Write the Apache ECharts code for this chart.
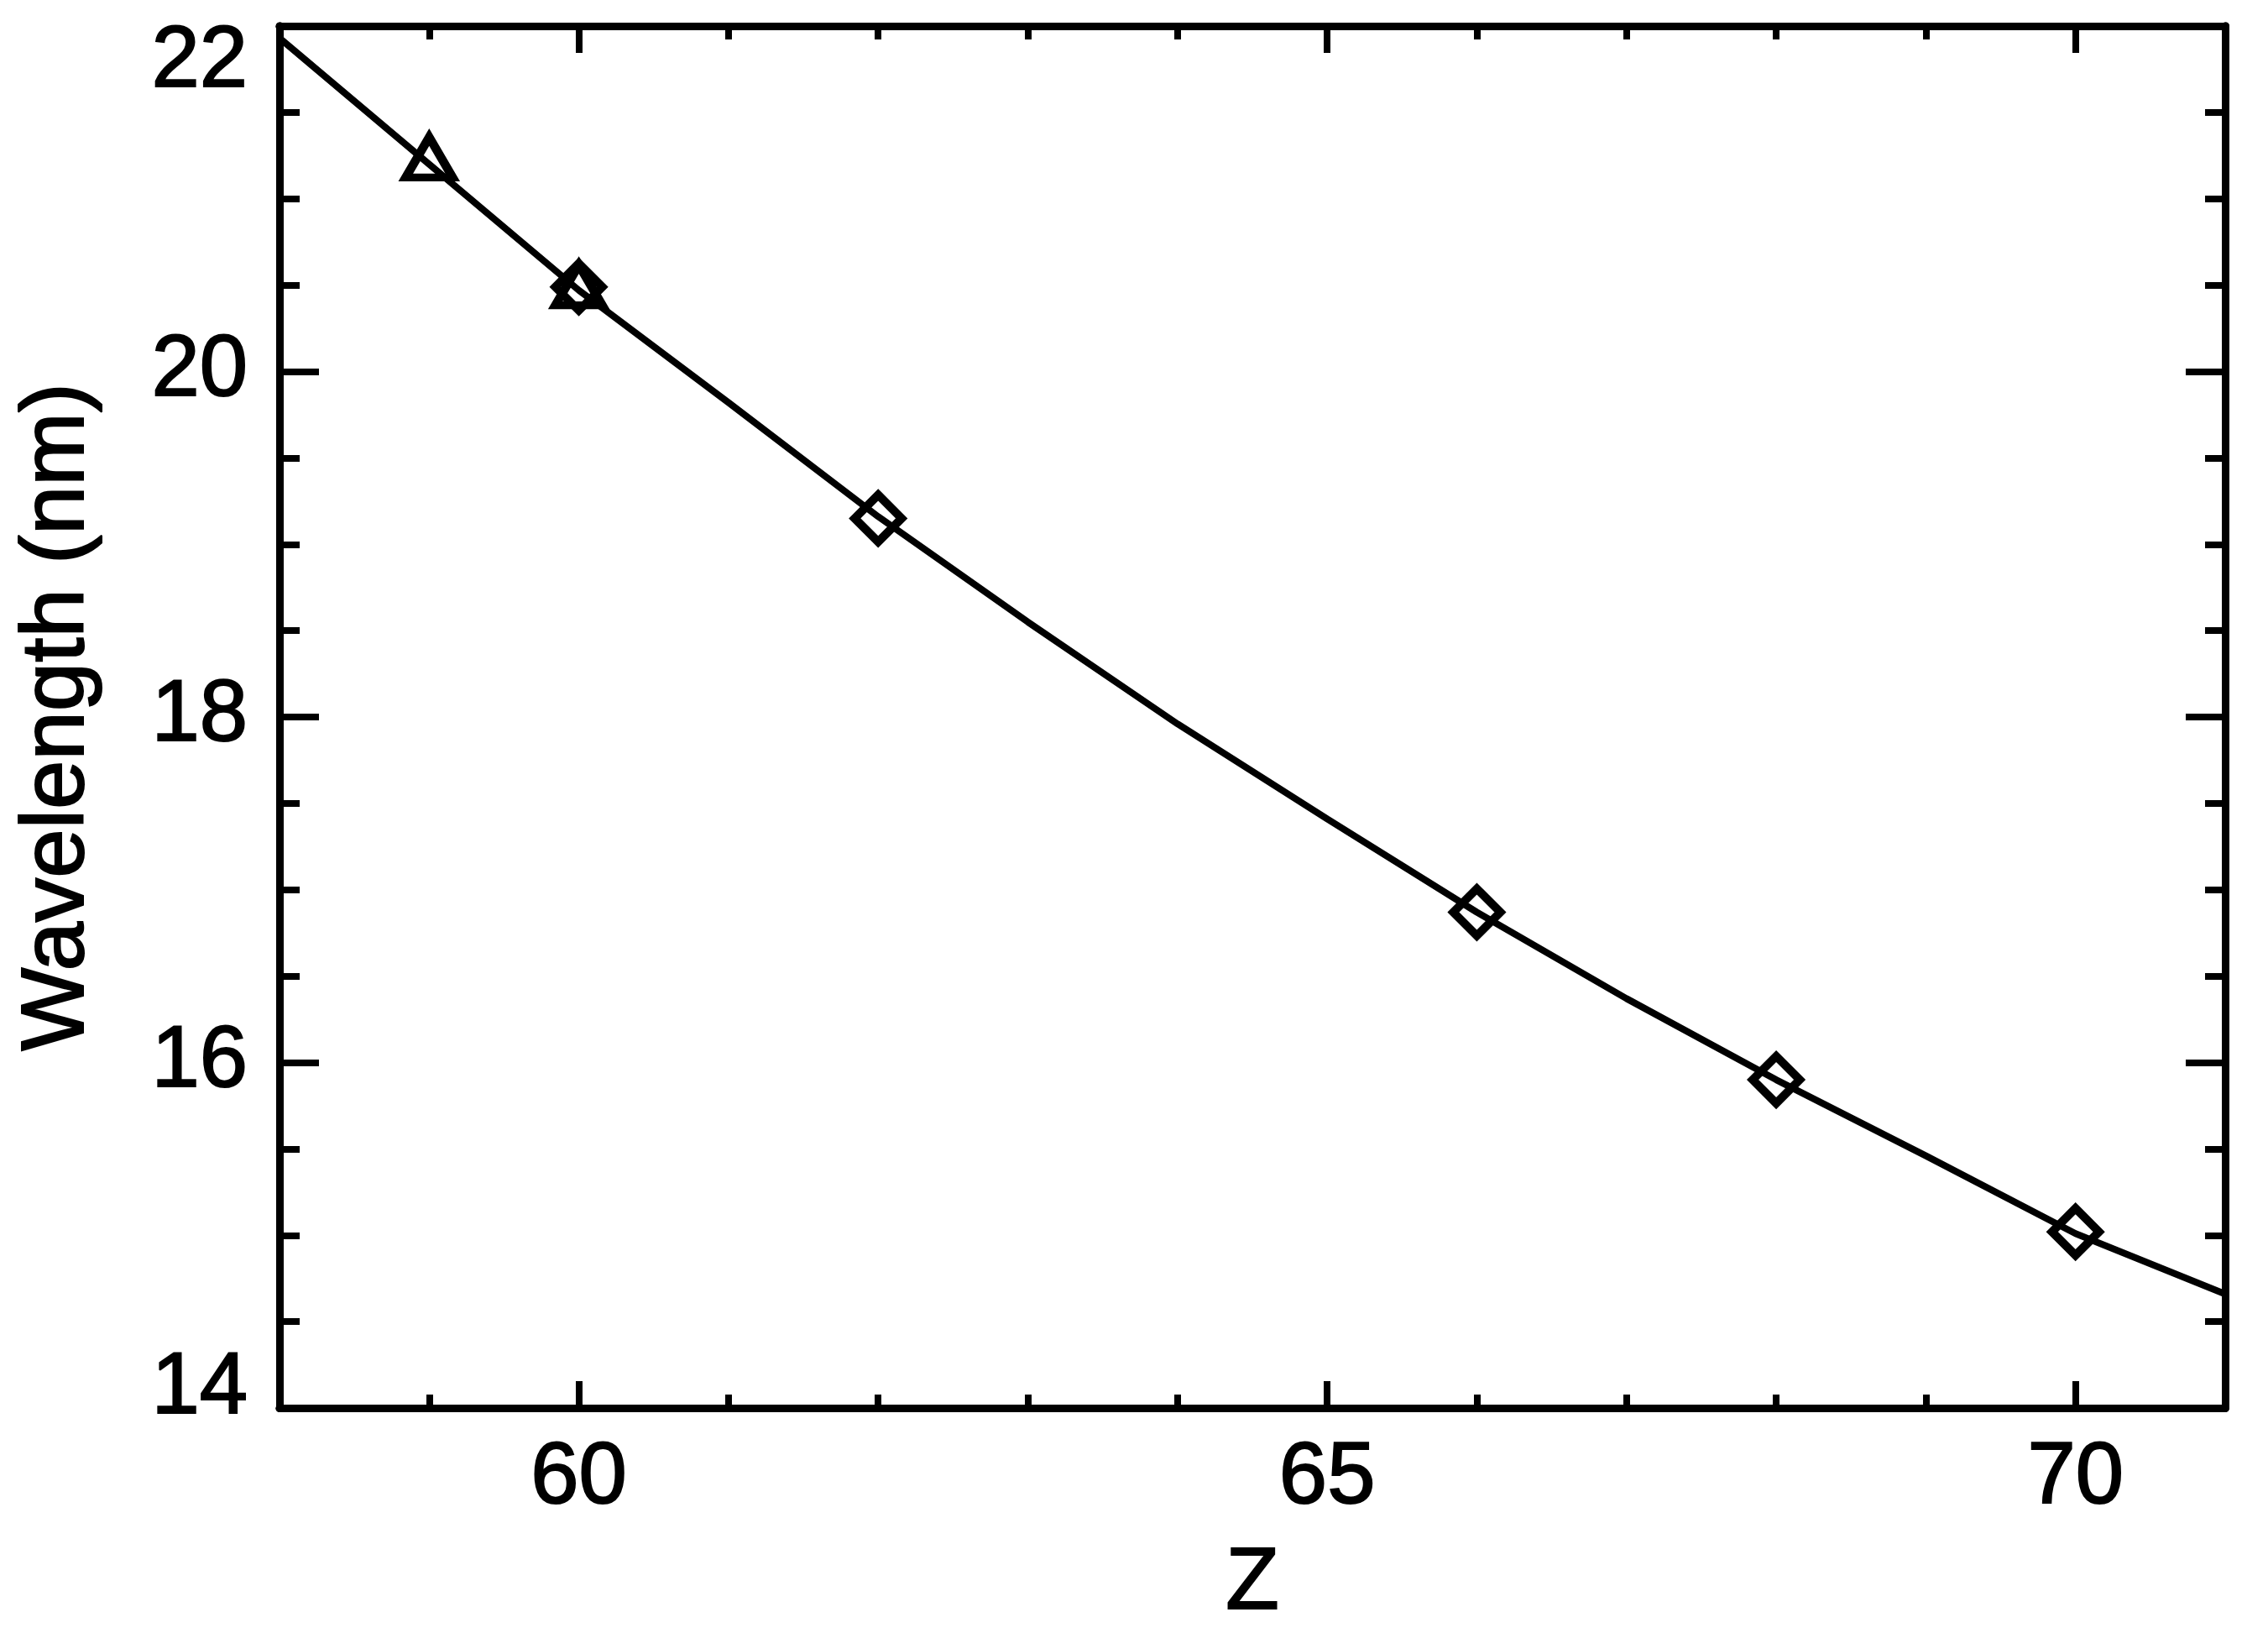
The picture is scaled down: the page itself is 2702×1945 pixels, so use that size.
<!DOCTYPE html>
<html>
<head>
<meta charset="utf-8">
<title>Wavelength vs Z</title>
<script src="https://cdn.jsdelivr.net/npm/echarts@6/dist/echarts.min.js"></script>
<style>
  html, body { margin: 0; padding: 0; background: #fff; }
  #main { width: 2702px; height: 1945px; }
</style>
</head>
<body>
<div id="main"></div>
<script>
// axis ranges and ticks
const zMin = 58, zMax = 71;
const lamMin = 14, lamMax = 22;
const xMajor = [60, 65, 70];
const xMinor = [59, 61, 62, 63, 64, 66, 67, 68, 69];
const yMajor = [14, 16, 18, 20, 22];
const yMinor = [14.5, 15, 15.5, 16.5, 17, 17.5, 18.5, 19, 19.5, 20.5, 21, 21.5];

// fitted curve
const lineZ = [58, 59, 60, 61, 62, 63, 64, 65, 66, 67, 68, 69, 70, 71];
const lineLambda = [21.93, 21.20, 20.47, 19.82, 19.16, 18.55, 17.96, 17.41, 16.87, 16.37, 15.90, 15.46, 15.01, 14.66];

// measured points
const diamondZ = [60, 62, 66, 68, 70];
const diamondLambda = [20.49, 19.15, 16.87, 15.90, 15.02];
const triangleZ = [59, 60];
const triangleLambda = [21.24, 20.50];

const font = 'Liberation Sans';
// a thin outline makes the text a little heavier, like the original
const txt = { color: '#000', fontFamily: font, textBorderColor: '#000', textBorderWidth: 2 };

function pairs(xs, ys) {
  return xs.map((x, i) => [x, ys[i]]);
}

function xAxis(position, ticks, len, withLabels) {
  return {
    type: 'value', min: zMin, max: zMax, position: position,
    name: withLabels ? 'Z' : '',
    nameLocation: 'middle',
    nameGap: 158,
    nameTextStyle: Object.assign({ fontSize: 104 }, txt),
    axisLine: { show: true, onZero: false, lineStyle: { color: '#000', width: 9 } },
    axisTick: { show: true, inside: true, length: len, customValues: ticks, lineStyle: { color: '#000', width: 8 } },
    axisLabel: Object.assign({
      show: withLabels, customValues: xMajor, margin: 33, fontSize: 103
    }, txt),
    splitLine: { show: false }
  };
}

function yAxis(position, ticks, len, withLabels) {
  const st = Object.assign({ fontSize: 103 }, txt);
  return {
    type: 'value', min: lamMin, max: lamMax, position: position,
    name: withLabels ? 'Wavelength (nm)' : '',
    nameLocation: 'middle',
    nameRotate: 90,
    nameGap: 210,
    nameTextStyle: Object.assign({ fontSize: 105 }, txt),
    axisLine: { show: true, onZero: false, lineStyle: { color: '#000', width: 9 } },
    axisTick: { show: true, inside: true, length: len, customValues: ticks, lineStyle: { color: '#000', width: 8 } },
    axisLabel: {
      show: withLabels, customValues: yMajor, margin: 38,
      formatter: function (v) {
        if (v === lamMin) return '{lo|' + v + '}';
        if (v === lamMax) return '{hi|' + v + '}';
        return '{n|' + v + '}';
      },
      rich: {
        n: st,
        lo: Object.assign({ padding: [0, 0, 44, 0] }, st),
        hi: Object.assign({ padding: [88, 0, 0, 0] }, st)
      }
    },
    splitLine: { show: false }
  };
}

const chart = echarts.init(document.getElementById('main'));

const option = {
  animation: false,
  backgroundColor: '#fff',
  grid: { left: 333, right: 51, top: 31, bottom: 268, containLabel: false },
  xAxis: [
    xAxis('bottom', xMajor, 32, true),
    xAxis('bottom', xMinor, 16, false),
    xAxis('top', xMajor, 32, false),
    xAxis('top', xMinor, 16, false)
  ],
  yAxis: [
    yAxis('left', yMajor, 47, true),
    yAxis('left', yMinor, 24, false),
    yAxis('right', yMajor, 47, false),
    yAxis('right', yMinor, 24, false)
  ],
  series: [
    {
      type: 'line',
      data: pairs(lineZ, lineLambda),
      symbol: 'none',
      lineStyle: { color: '#000', width: 8 },
      z: 2
    },
    {
      type: 'scatter',
      data: pairs(diamondZ, diamondLambda),
      symbol: 'diamond',
      symbolSize: 56,
      itemStyle: { color: 'rgba(0,0,0,0)', borderColor: '#000', borderWidth: 10, opacity: 1 },
      z: 3
    },
    {
      type: 'scatter',
      data: pairs(triangleZ, triangleLambda),
      symbol: 'triangle',
      symbolSize: [56, 48],
      itemStyle: { color: 'rgba(0,0,0,0)', borderColor: '#000', borderWidth: 10, opacity: 1 },
      z: 3
    }
  ]
};

chart.setOption(option);
</script>
</body>
</html>
